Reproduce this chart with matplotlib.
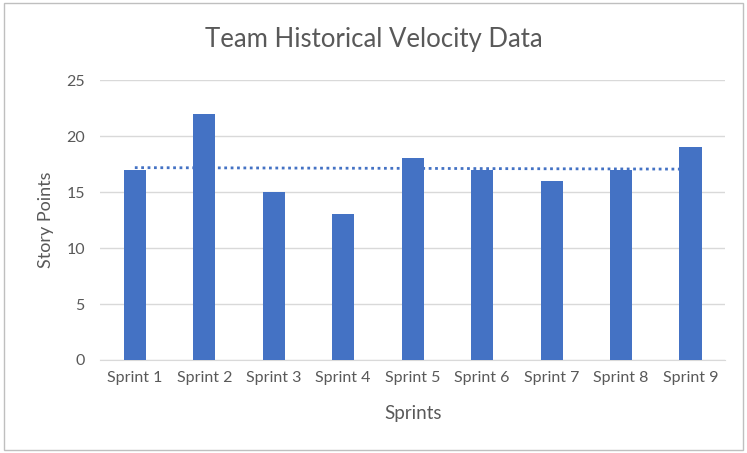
import matplotlib
matplotlib.use('Agg')
import matplotlib.pyplot as plt
import numpy as np
import matplotlib.patches as pat

sprints = ['Sprint 1', 'Sprint 2', 'Sprint 3', 'Sprint 4', 'Sprint 5',
           'Sprint 6', 'Sprint 7', 'Sprint 8', 'Sprint 9']
points = [17, 22, 15, 13, 18, 17, 16, 17, 19]
y_ticks = [0, 5, 10, 15, 20, 25]

bar_color = '#4472C4'
text_color = '#595959'
grid_color = '#D9D9D9'

plt.rcParams['font.family'] = ['Lato', 'DejaVu Sans']

fig = plt.figure(figsize=(7.47, 4.53), dpi=100)
ax = fig.add_axes([0.134, 0.2053, 0.837, 0.618])

x = np.arange(1, len(sprints) + 1)
ax.bar(x, points, width=0.32, color=bar_color, zorder=3)

# linear trendline like excel
k, b = np.polyfit(x, points, 1)
ax.plot(x, k * x + b, color=bar_color, linestyle=(0, (1, 1.3)), linewidth=2, zorder=4)

ax.set_xlim(0.5, len(sprints) + 0.5)
ax.set_ylim(0, 25)
ax.set_yticks(y_ticks)
ax.set_xticks(x)
ax.set_xticklabels(sprints)
ax.yaxis.grid(True, color=grid_color, linewidth=1, zorder=0)
ax.tick_params(length=0, labelsize=11.5, colors=text_color, pad=8)
ax.tick_params(axis='y', pad=11)
for s in ['top', 'right', 'left']:
    ax.spines[s].set_visible(False)
ax.spines['bottom'].set_color(grid_color)

ax.set_xlabel('Sprints', fontsize=13.5, color=text_color, labelpad=14)
ax.set_ylabel('Story Points', fontsize=13, color=text_color, labelpad=9)
fig.text(0.5, 0.912, 'Team Historical Velocity Data', ha='center', va='center',
         fontsize=18.5, color=text_color)

# chart border
fig.patches.append(pat.Rectangle((0.006, 0.006), 0.988, 0.988, transform=fig.transFigure,
                                 fill=False, edgecolor='#BFBFBF', linewidth=1))

fig.savefig('out.png', dpi=100)
